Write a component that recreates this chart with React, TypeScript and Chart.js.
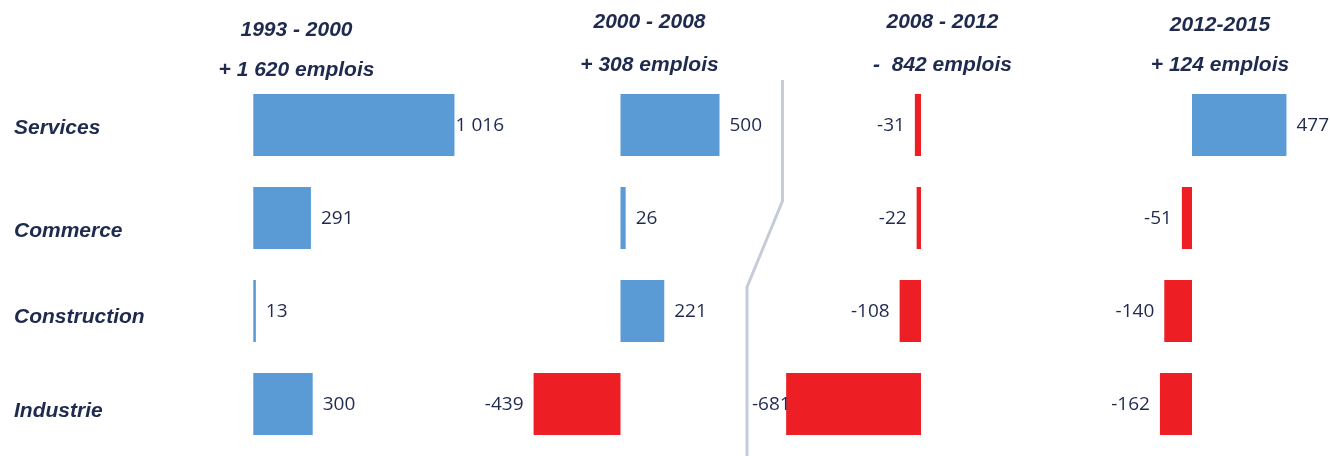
import React, { useEffect, useRef } from "react";
import { Chart, registerables } from "chart.js";

Chart.register(...registerables);

// ---------- data ----------
const categories = ["Services", "Commerce", "Construction", "Industrie"];
const periods = ["1993 - 2000", "2000 - 2008", "2008 - 2012", "2012-2015"];
const totals = ["+ 1 620 emplois", "+ 308 emplois", "-  842 emplois", "+ 124 emplois"];
const values1993to2000 = [1016, 291, 13, 300];
const values2000to2008 = [500, 26, 221, -439];
const values2008to2012 = [-31, -22, -108, -681];
const values2012to2015 = [477, -51, -140, -162];
const seriesValues = [values1993to2000, values2000to2008, values2008to2012, values2012to2015];

// ---------- layout / style ----------
const W = 1330;
const H = 456;
const PX_PER_UNIT = 0.198;
const panelZeroX = [253.3, 620.5, 921, 1192];
const panelLabelBounds = [
  [200, 504],
  [470, 770],
  [752, 1070],
  [1090, 1330],
];
const titleCenterX = [296.5, 649.5, 942.5, 1220];
const titleLine1Y = [36, 28.3, 28.3, 30.7];
const titleLine2Y = [76, 71, 71, 70.7];
const rowLabelBaselineOffset = [9, 19, 12, 12.5];
const separatorPts = [
  [782.5, 80],
  [782.5, 201],
  [747, 287],
  [747, 460],
];

const BLUE = "#5B9BD5";
const RED = "#ED1F24";
const NAVY = "#1F2A4F";
const GRAY = "#C5CCD8";
const TITLE_FONT = 'italic bold 21px "Liberation Sans", Arial, sans-serif';
const VALUE_FONT = '19px "Open Sans", "Noto Sans", sans-serif';

function fmt(v: number): string {
  const s = String(Math.abs(v)).replace(/\B(?=(\d{3})+(?!\d))/g, " ");
  return (v < 0 ? "-" : "") + s;
}

const decorPlugin = {
  id: "decor",
  afterDatasetsDraw(chart: any) {
    const ctx = chart.ctx as CanvasRenderingContext2D;
    const yScale = chart.scales.y;
    ctx.save();

    // separator line
    ctx.strokeStyle = GRAY;
    ctx.lineWidth = 3;
    ctx.lineJoin = "round";
    ctx.beginPath();
    separatorPts.forEach(([x, y], i) => (i === 0 ? ctx.moveTo(x, y) : ctx.lineTo(x, y)));
    ctx.stroke();

    // titles
    ctx.fillStyle = NAVY;
    ctx.font = TITLE_FONT;
    ctx.textAlign = "center";
    ctx.textBaseline = "alphabetic";
    periods.forEach((p, i) => {
      ctx.fillText(p, titleCenterX[i], titleLine1Y[i]);
      ctx.fillText(totals[i], titleCenterX[i], titleLine2Y[i]);
    });

    // row labels
    ctx.textAlign = "left";
    categories.forEach((c, j) => {
      const y = yScale.getPixelForValue(j) + rowLabelBaselineOffset[j];
      ctx.fillText(c, 14, y);
    });

    // value labels
    ctx.font = VALUE_FONT;
    ctx.textBaseline = "middle";
    ctx.textAlign = "left";
    chart.data.datasets.forEach((ds: any, i: number) => {
      const meta = chart.getDatasetMeta(i);
      const [lo, hi] = panelLabelBounds[i];
      meta.data.forEach((el: any, j: number) => {
        const v = ds.data[j];
        const t = fmt(v);
        const w = ctx.measureText(t).width;
        let x: number;
        if (v >= 0) {
          x = el.x + 10;
          if (x + w > hi) x = hi - w;
        } else {
          x = el.x - 10 - w;
          if (x < lo) x = lo;
        }
        ctx.fillText(t, x, el.y + 1);
      });
    });

    ctx.restore();
  },
};

export default function App() {
  const canvasRef = useRef<HTMLCanvasElement | null>(null);

  useEffect(() => {
    if (!canvasRef.current) return;
    const scales: any = {
      y: {
        type: "category",
        display: false,
        offset: true,
        grid: { display: false },
      },
    };
    seriesValues.forEach((_, i) => {
      scales["x" + i] = {
        type: "linear",
        axis: "x",
        position: "bottom",
        display: false,
        min: -panelZeroX[i] / PX_PER_UNIT,
        max: (W - panelZeroX[i]) / PX_PER_UNIT,
        grid: { display: false },
      };
    });

    const chart = new Chart(canvasRef.current, {
      type: "bar",
      data: {
        labels: categories,
        datasets: seriesValues.map((vals, i) => ({
          label: periods[i],
          data: vals,
          xAxisID: "x" + i,
          yAxisID: "y",
          backgroundColor: vals.map((v) => (v >= 0 ? BLUE : RED)),
          borderWidth: 0,
          grouped: false,
          categoryPercentage: 1,
          barPercentage: 62 / 93,
        })),
      },
      options: {
        indexAxis: "y",
        animation: false,
        responsive: true,
        maintainAspectRatio: false,
        layout: { padding: { top: 78.5, bottom: 5.5, left: 0, right: 0 } },
        plugins: {
          legend: { display: false },
          title: { display: false },
          tooltip: { enabled: false },
        },
        scales,
      },
      plugins: [decorPlugin],
    } as any);

    return () => chart.destroy();
  }, []);

  return (
    <div style={{ position: "fixed", left: 0, top: 0, width: W, height: H, background: "#fff" }}>
      <canvas ref={canvasRef} />
    </div>
  );
}
